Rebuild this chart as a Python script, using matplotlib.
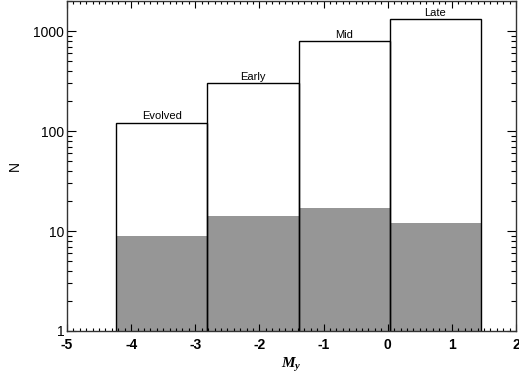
import matplotlib
matplotlib.use("Agg")
import matplotlib.pyplot as plt
import numpy as np
from matplotlib.ticker import FixedLocator, LogLocator, MultipleLocator, NullFormatter

plt.rcParams['font.family'] = ['Liberation Sans', 'DejaVu Sans']
plt.rcParams['mathtext.fontset'] = 'custom'
plt.rcParams['mathtext.it'] = 'Liberation Serif:italic:bold'
plt.rcParams['mathtext.rm'] = 'Liberation Serif:bold'

# Data
categories = ["Evolved", "Early", "Mid", "Late"]
bin_edges = [-4.23, -2.81, -1.39, 0.03, 1.45]
total_counts = [121, 301, 795, 1309]
sub_counts = [9, 14, 17, 12]
y_ticks = [1, 10, 100, 1000]
x_ticks = [-5, -4, -3, -2, -1, 0, 1, 2]

fig = plt.figure(figsize=(5.19, 3.77), dpi=100)
ax = fig.add_axes([67/519, 1 - 331/377, (516-67)/519, (331-1)/377])
ax.set_yscale('log')

left = np.array(bin_edges[:-1])
width = np.diff(bin_edges)
base = 0.5
ax.bar(left, np.array(sub_counts) - base, width=width, bottom=base, align='edge',
       color='#969696', edgecolor='none', zorder=1)
ax.bar(left, np.array(total_counts) - base, width=width, bottom=base, align='edge',
       fill=False, edgecolor='black', linewidth=1.0, zorder=2)

for l, w, h, c in zip(left, width, total_counts, categories):
    ax.annotate(c, (l + w/2, h), xytext=(0, 2.5), textcoords='offset points',
                ha='center', va='baseline', fontsize=8)

ax.set_xlim(-5, 2)
ax.set_ylim(1, 2000)
ax.xaxis.set_major_locator(FixedLocator(x_ticks))
ax.xaxis.set_minor_locator(MultipleLocator(0.1))
ax.set_xticklabels([str(t) for t in x_ticks], fontweight='bold')
ax.yaxis.set_major_locator(FixedLocator(y_ticks))
ax.set_yticklabels([str(t) for t in y_ticks])
ax.yaxis.set_minor_locator(LogLocator(base=10, subs=np.arange(2, 10)))
ax.yaxis.set_minor_formatter(NullFormatter())

ax.tick_params(axis='both', which='both', direction='in', top=True, right=True,
               labelsize=10, width=0.8)
ax.tick_params(axis='y', which='major', length=6.5, pad=2)
ax.tick_params(axis='y', which='minor', length=3.5)
ax.tick_params(axis='x', which='major', length=5, pad=5)
ax.tick_params(axis='x', which='minor', length=2.5)
for s in ax.spines.values():
    s.set_linewidth(1.0)
    s.set_color('#333333')

ax.set_ylabel('N', fontsize=10)
ax.yaxis.set_label_coords(-0.100, 0.5)
ax.set_xlabel(r'$M_y$', fontsize=11, labelpad=3)

fig.savefig('out.png', dpi=100)
